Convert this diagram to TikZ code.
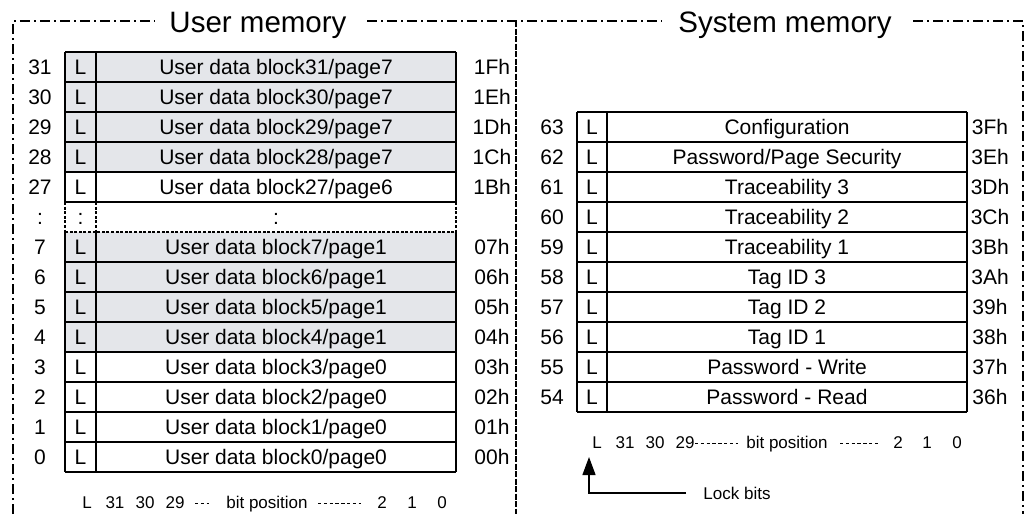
\documentclass[tikz,border=0pt]{standalone}
\usepackage{fontspec}
\setmainfont{Liberation Sans}
\usetikzlibrary{arrows.meta}
\definecolor{cellgray}{RGB}{228,230,234}
\tikzset{
  framestyle/.style={line width=1.3pt, dash pattern=on 10pt off 4pt on 2pt off 4pt},
  middiv/.style={line width=1.3pt, dash pattern=on 6pt off 1.5pt},
  gridline/.style={line width=1.5pt},
  dgridline/.style={line width=1.1pt, dash pattern=on 3pt off 1.6pt},
  celltxt/.style={font=\fontsize{21}{25}\selectfont, anchor=base, inner sep=0pt},
  bittxt/.style={font=\fontsize{17}{20}\selectfont, anchor=base, inner sep=0pt},
  titletxt/.style={font=\fontsize{29.5}{33}\selectfont, anchor=base, inner sep=0pt},
  fillcell/.style={fill=cellgray, draw=none, inner sep=0pt, minimum height=30pt, minimum width=391pt, anchor=north west},
  bitdash/.style={line width=0.9pt, dash pattern=on 3.4pt off 2.4pt},
  arrowline/.style={line width=1.3pt, -{Triangle[length=18pt,width=13pt]}},
}
\newcommand\urow[5]{%
  \node[celltxt] (un#1) at (40,{74.5+30*#1}) {#2};
  \node[celltxt] (ul#1) at (80.5,{74.5+30*#1}) {#3};
  \node[celltxt] (ut#1) at (276,{74.5+30*#1}) {#4};
  \node[celltxt] (uh#1) at (492,{74.5+30*#1}) {#5};
}
\newcommand\srow[4]{%
  \node[celltxt] (sn#1) at (552,{134.5+30*#1}) {#2};
  \node[celltxt] (sl#1) at (592,{134.5+30*#1}) {L};
  \node[celltxt] (st#1) at (787,{134.5+30*#1}) {#3};
  \node[celltxt] (sh#1) at (990,{134.5+30*#1}) {#4};
}
\begin{document}
\begin{tikzpicture}[x=1pt,y=-1pt]
\useasboundingbox (0,0) rectangle (1032,514);

% frame
\node[titletxt] (utitle) at (258,32) {User memory};
\node[titletxt] (stitle) at (785,32) {System memory};
\draw[framestyle] (13,514) -- (13,21) -- (155,21);
\draw[framestyle] (367,21) -- (662,21);
\draw[framestyle] (913,21) -- (1023,21) -- (1023,514);
\draw[middiv] (516,21) -- (516,514);

% gray fills
\foreach \k in {0,1,2,3,6,7,8,9}
  \node[fillcell] (g\k) at (65,{52+30*\k}) {};

% left grid
\foreach \k in {0,...,5,7,8,...,14}
  \draw[gridline] (65,{52+30*\k}) -- (456,{52+30*\k});
\draw[dgridline] (65,232) -- (456,232);
\foreach \x in {65,96,456} {
  \draw[gridline] (\x,52) -- (\x,202);
  \draw[dgridline] (\x,202) -- (\x,232);
  \draw[gridline] (\x,232) -- (\x,472);
}

% left rows
\urow{0}{31}{L}{User data block31/page7}{1Fh}
\urow{1}{30}{L}{User data block30/page7}{1Eh}
\urow{2}{29}{L}{User data block29/page7}{1Dh}
\urow{3}{28}{L}{User data block28/page7}{1Ch}
\urow{4}{27}{L}{User data block27/page6}{1Bh}
\node[celltxt] (un5) at (40,224.5) {:};
\node[celltxt] (ul5) at (80.5,224.5) {:};
\node[celltxt] (ut5) at (276,224.5) {:};
\urow{6}{7}{L}{User data block7/page1}{07h}
\urow{7}{6}{L}{User data block6/page1}{06h}
\urow{8}{5}{L}{User data block5/page1}{05h}
\urow{9}{4}{L}{User data block4/page1}{04h}
\urow{10}{3}{L}{User data block3/page0}{03h}
\urow{11}{2}{L}{User data block2/page0}{02h}
\urow{12}{1}{L}{User data block1/page0}{01h}
\urow{13}{0}{L}{User data block0/page0}{00h}

% left bit positions
\node[bittxt] (lbL) at (87,508) {L};
\node[bittxt] (lb31) at (115,508) {31};
\node[bittxt] (lb30) at (145,508) {30};
\node[bittxt] (lb29) at (175,508) {29};
\draw[bitdash] (195,503) -- (209,503);
\node[bittxt] (lbpos) at (267,508) {bit position};
\draw[bitdash] (318,503) -- (361,503);
\node[bittxt] (lb2) at (382,508) {2};
\node[bittxt] (lb1) at (412,508) {1};
\node[bittxt] (lb0) at (442,508) {0};

% right grid
\foreach \k in {0,...,10}
  \draw[gridline] (577,{112+30*\k}) -- (967,{112+30*\k});
\foreach \x in {577,607,967}
  \draw[gridline] (\x,112) -- (\x,412);

% right rows
\srow{0}{63}{Configuration}{3Fh}
\srow{1}{62}{Password/Page Security}{3Eh}
\srow{2}{61}{Traceability 3}{3Dh}
\srow{3}{60}{Traceability 2}{3Ch}
\srow{4}{59}{Traceability 1}{3Bh}
\srow{5}{58}{Tag ID 3}{3Ah}
\srow{6}{57}{Tag ID 2}{39h}
\srow{7}{56}{Tag ID 1}{38h}
\srow{8}{55}{Password - Write}{37h}
\srow{9}{54}{Password - Read}{36h}

% right bit positions
\node[bittxt] (rbL) at (597,448) {L};
\node[bittxt] (rb31) at (625,448) {31};
\node[bittxt] (rb30) at (655,448) {30};
\node[bittxt] (rb29) at (685,448) {29};
\draw[bitdash] (695,443) -- (738,443);
\node[bittxt] (rbpos) at (787,448) {bit position};
\draw[bitdash] (840,443) -- (879,443);
\node[bittxt] (rb2) at (898,448) {2};
\node[bittxt] (rb1) at (927,448) {1};
\node[bittxt] (rb0) at (957,448) {0};

% lock bits
\node[bittxt] (lockbits) at (737,499) {Lock bits};
\coordinate (lbstart) at (686,493);
\coordinate (lbtip) at (589,457);
\draw[arrowline] (lbstart) -| (lbtip);
\end{tikzpicture}
\end{document}
